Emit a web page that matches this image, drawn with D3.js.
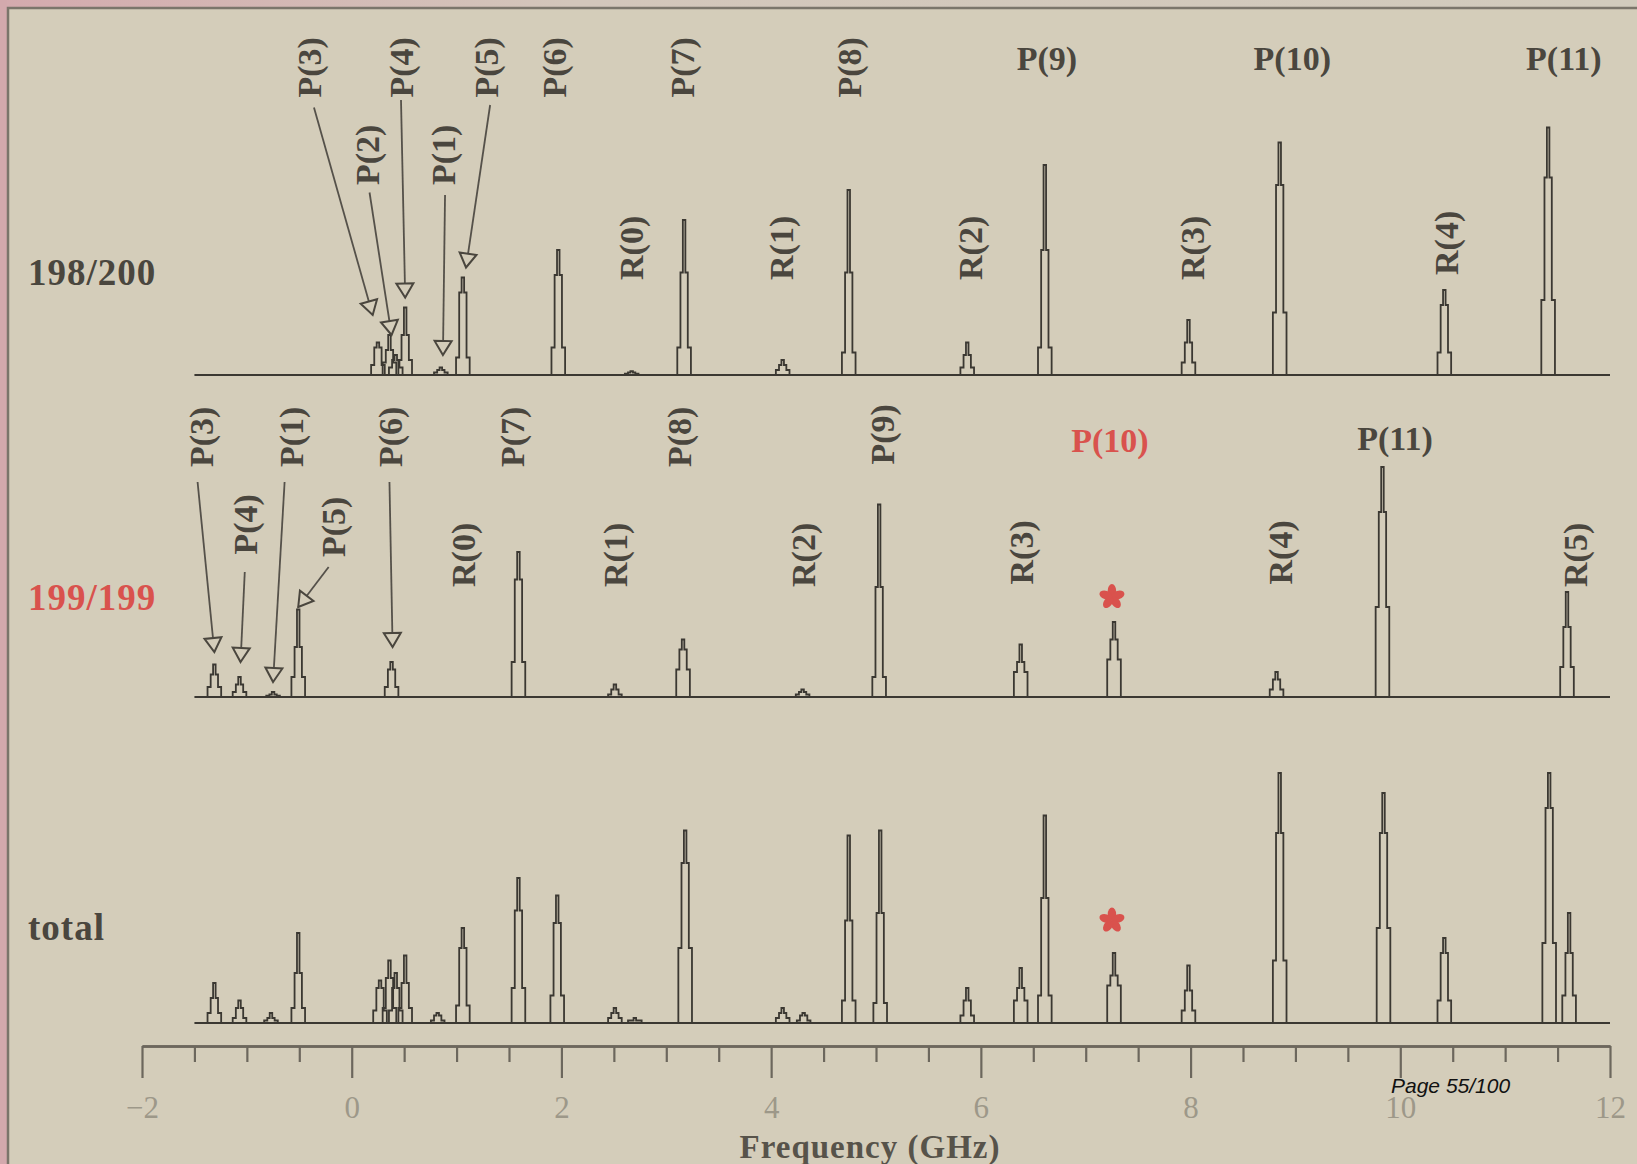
<!DOCTYPE html>
<html>
<head>
<meta charset="utf-8">
<script src="https://cdn.jsdelivr.net/npm/d3@7"></script>
<style>
  html, body { margin: 0; padding: 0; background: #d4cdba; }
  svg { display: block; }
  .serif { font-family: "Liberation Serif", "Times New Roman", serif; font-weight: bold; }
</style>
</head>
<body>
<svg id="chart" width="1637" height="1164"></svg>
<script>
// Frequency axis
const freqDomain = [-2, 12];
const traceSpan = [-1.5, 12];
const majorTicks = [-2, 0, 2, 4, 6, 8, 10, 12];
const minorTicks = [-1.5, -1, -0.5, 0.5, 1, 1.5, 2.5, 3, 3.5, 4.5, 5, 5.5, 6.5, 7, 7.5,
                    8.5, 9, 9.5, 10.5, 11, 11.5];

// Lines: [frequency GHz, peak, shoulder, foot] (peak of P(11) ~ 100)
const peaks198 = [
  [0.25, 13, 11, 4], [0.36, 16, 10, 5], [0.42, 8, 6, 3], [0.51, 27, 16, 6],
  [0.85, 3, 2, 1], [1.06, 39, 33, 7], [1.97, 50, 40, 11], [2.67, 1.5, 1, 0.5],
  [3.17, 62, 41, 11], [4.11, 6, 4, 2], [4.74, 74, 41, 9], [5.87, 13, 8, 3],
  [6.61, 84, 50, 11], [7.98, 22, 13, 5], [8.85, 93, 76, 25], [10.42, 34, 28, 9],
  [11.41, 99, 79, 30]
];
const peaks199 = [
  [-1.31, 13, 9, 4], [-1.07, 8, 5, 2], [-0.75, 2, 1, 0.5], [-0.51, 35, 20, 8],
  [0.38, 14, 11, 4], [1.59, 58, 47, 14], [2.51, 5, 3, 1], [3.16, 23, 19, 11],
  [4.30, 3, 2, 1], [5.03, 77, 44, 8], [6.38, 21, 14, 10], [7.27, 30, 23, 15],
  [8.82, 10, 7, 3], [9.83, 92, 74, 36], [11.59, 42, 28, 12]
];
const peaksTotal = [
  [-1.31, 16, 10, 4], [-1.07, 9, 6, 2], [-0.77, 4, 2, 1], [-0.51, 36, 20, 6],
  [0.27, 17, 14, 5], [0.36, 25, 18, 6], [0.42, 20, 14, 5], [0.51, 27, 16, 6],
  [0.82, 4, 3, 1], [1.06, 38, 30, 7], [1.59, 58, 45, 14], [1.96, 51, 40, 11],
  [2.51, 6, 4, 2], [2.70, 2, 1, 1], [3.18, 77, 64, 30], [4.11, 6, 4, 2],
  [4.31, 4, 3, 1], [4.74, 75, 41, 9], [5.04, 77, 44, 8], [5.87, 14, 9, 3],
  [6.38, 22, 14, 9], [6.61, 83, 50, 11], [7.27, 28, 19, 15], [7.98, 23, 13, 5],
  [8.85, 100, 76, 25], [9.84, 92, 76, 38], [10.42, 34, 28, 9], [11.42, 100, 86, 32],
  [11.61, 44, 28, 11]
];

// Line assignments: [text, frequency, height, "v" rotated / "h" horizontal]
const labels198 = [
  ["P(3)", -0.40, 111, "v"], ["P(4)", 0.48, 111, "v"], ["P(5)", 1.29, 111, "v"],
  ["P(6)", 1.94, 111, "v"], ["P(7)", 3.16, 111, "v"], ["P(8)", 4.75, 111, "v"],
  ["P(2)", 0.15, 76, "v"], ["P(1)", 0.88, 76, "v"],
  ["R(0)", 2.67, 38, "v"], ["R(1)", 4.10, 38, "v"], ["R(2)", 5.90, 38, "v"],
  ["R(3)", 8.02, 38, "v"], ["R(4)", 10.44, 40, "v"],
  ["P(9)", 6.63, 122, "h"], ["P(10)", 8.97, 122, "h"], ["P(11)", 11.56, 122, "h"]
];
const labels199 = [
  ["P(3)", -1.43, 92, "v"], ["P(1)", -0.57, 92, "v"], ["P(6)", 0.375, 92, "v"],
  ["P(7)", 1.54, 92, "v"], ["P(8)", 3.13, 92, "v"], ["P(9)", 5.06, 93, "v"],
  ["P(4)", -1.01, 57, "v"], ["P(5)", -0.17, 56, "v"],
  ["R(0)", 1.07, 44, "v"], ["R(1)", 2.52, 44, "v"], ["R(2)", 4.31, 44, "v"],
  ["R(3)", 6.39, 45, "v"], ["R(4)", 8.86, 45, "v"], ["R(5)", 11.67, 44, "v"],
  ["P(10)", 7.23, 98, "h", "red"], ["P(11)", 9.95, 99, "h"]
];
const labelsTotal = [];

// Arrows: [from freq, from height, to freq, to height]
const arrows198 = [
  [-0.36, 107, 0.20, 24], [0.17, 73, 0.38, 16], [0.47, 110, 0.51, 31],
  [0.89, 72, 0.87, 8], [1.32, 108, 1.09, 43]
];
const arrows199 = [
  [-1.47, 86, -1.31, 18], [-1.02, 50, -1.06, 14], [-0.64, 86, -0.75, 6],
  [-0.22, 52, -0.51, 36], [0.36, 86, 0.39, 20]
];

// Red asterisks marking the unassigned line: [freq, height]
const stars199 = [[7.25, 40]];
const starsTotal = [[7.25, 41]];

const W = 1637, H = 1164;
const BG = '#d4cdba', INK = '#3b3832', TXT = '#4a463e', RED = '#d9524d';
const HW = { foot: 0.065, mid: 0.035, top: 0.012 };   // half widths of the line steps (GHz)

const svg = d3.select('#chart');
const defs = svg.append('defs');
const grad = defs.append('linearGradient').attr('id', 'topStrip');
grad.append('stop').attr('offset', '0%').attr('stop-color', '#d4aaae');
grad.append('stop').attr('offset', '35%').attr('stop-color', '#d3c6bb');
grad.append('stop').attr('offset', '100%').attr('stop-color', '#d2cbbd');

svg.append('rect').attr('width', W).attr('height', H).attr('fill', BG);
svg.append('rect').attr('width', W).attr('height', 7).attr('fill', 'url(#topStrip)');
svg.append('rect').attr('width', 7).attr('height', H).attr('fill', '#d3a9ad');
svg.append('path').attr('d', `M8,${H}V8H${W}`)
  .attr('fill', 'none').attr('stroke', '#7b756b').attr('stroke-width', 2.5);

const x = d3.scaleLinear().domain(freqDomain).range([142, 1610]);

const panels = [
  { name: '198/200', color: TXT, base: 375, nameY: 285, peaks: peaks198, labels: labels198, arrows: arrows198, stars: [] },
  { name: '199/199', color: RED, base: 697, nameY: 610, peaks: peaks199, labels: labels199, arrows: arrows199, stars: stars199 },
  { name: 'total', color: TXT, base: 1023, nameY: 940, peaks: peaksTotal, labels: labelsTotal, arrows: [], stars: starsTotal }
];

function peakPoints(p) {
  const [f, top, mid, foot] = p;
  return [
    [f - HW.foot, 0], [f - HW.foot, foot], [f - HW.mid, foot], [f - HW.mid, mid],
    [f - HW.top, mid], [f - HW.top, top], [f + HW.top, top], [f + HW.top, mid],
    [f + HW.mid, mid], [f + HW.mid, foot], [f + HW.foot, foot], [f + HW.foot, 0]
  ];
}

panels.forEach(pn => {
  const y = d3.scaleLinear().domain([0, 100]).range([pn.base, pn.base - 250]);
  const line = d3.line().x(d => x(d[0])).y(d => y(d[1]));
  const g = svg.append('g');

  g.append('path').attr('d', line([[traceSpan[0], 0], [traceSpan[1], 0]]))
    .attr('fill', 'none').attr('stroke', INK).attr('stroke-width', 2);
  g.selectAll('path.peak').data(pn.peaks).join('path').attr('class', 'peak')
    .attr('d', d => line(peakPoints(d)))
    .attr('fill', 'none').attr('stroke', INK).attr('stroke-width', 1.8)
    .attr('stroke-linejoin', 'miter');

  svg.append('text').attr('class', 'serif').attr('x', 28).attr('y', pn.nameY)
    .attr('font-size', 37).attr('letter-spacing', 1).attr('fill', pn.color).text(pn.name);

  // arrows with hollow triangle heads
  pn.arrows.forEach(a => {
    const x0 = x(a[0]), y0 = y(a[1]), x1 = x(a[2]), y1 = y(a[3]);
    const ang = Math.atan2(y1 - y0, x1 - x0) * 180 / Math.PI;
    g.append('line').attr('x1', x0).attr('y1', y0).attr('x2', x1).attr('y2', y1)
      .attr('stroke', '#55514a').attr('stroke-width', 1.8);
    g.append('path').attr('d', 'M0,0L-14,-8.5L-14,8.5Z')
      .attr('transform', `translate(${x1},${y1}) rotate(${ang})`)
      .attr('fill', BG).attr('stroke', '#4a463e').attr('stroke-width', 2)
      .attr('stroke-linejoin', 'miter');
  });

  g.selectAll('text.tag').data(pn.labels).join('text').attr('class', 'tag serif')
    .attr('font-size', 34)
    .attr('fill', d => d[4] === 'red' ? RED : TXT)
    .attr('text-anchor', d => d[3] === 'v' ? 'start' : 'middle')
    .attr('dy', d => d[3] === 'v' ? '0.33em' : 0)
    .attr('transform', d => d[3] === 'v'
      ? `translate(${x(d[1])},${y(d[2])}) rotate(-90)`
      : `translate(${x(d[1])},${y(d[2])})`)
    .text(d => d[0]);

  pn.stars.forEach(s => {
    const sg = g.append('g').attr('transform', `translate(${x(s[0])},${y(s[1])})`);
    d3.range(5).forEach(i => {
      sg.append('ellipse').attr('cx', 0).attr('cy', -6.5).attr('rx', 4.2).attr('ry', 6.5)
        .attr('transform', `rotate(${i * 72})`).attr('fill', RED);
    });
  });
});

// frequency axis
const axisY = 1046;
const minorAxis = svg.append('g').attr('transform', `translate(0,${axisY})`)
  .call(d3.axisBottom(x).tickValues(minorTicks).tickSize(16).tickSizeOuter(0).tickFormat(''));
const majorAxis = svg.append('g').attr('transform', `translate(0,${axisY})`)
  .call(d3.axisBottom(x).tickValues(majorTicks).tickSize(32).tickSizeOuter(0).tickPadding(18)
    .tickFormat(d => d < 0 ? '\u2212' + Math.abs(d) : String(d)));
[minorAxis, majorAxis].forEach(a => {
  a.select('.domain').attr('stroke', '#6c675d').attr('stroke-width', 2.5);
  a.selectAll('.tick line').attr('stroke', '#6c675d').attr('stroke-width', 2.2);
});
majorAxis.selectAll('.tick text')
  .attr('font-family', '"Liberation Serif", "Times New Roman", serif')
  .attr('font-size', 31).attr('fill', '#9d9889');

svg.append('text').attr('class', 'serif').attr('x', 870).attr('y', 1158)
  .attr('text-anchor', 'middle').attr('font-size', 33).attr('letter-spacing', 1)
  .attr('fill', '#57534a').text('Frequency (GHz)');

svg.append('text').attr('x', 1391).attr('y', 1093)
  .attr('font-family', '"Liberation Sans", Arial, sans-serif').attr('font-style', 'italic')
  .attr('font-size', 21).attr('fill', '#111').text('Page 55/100');
</script>
</body>
</html>
